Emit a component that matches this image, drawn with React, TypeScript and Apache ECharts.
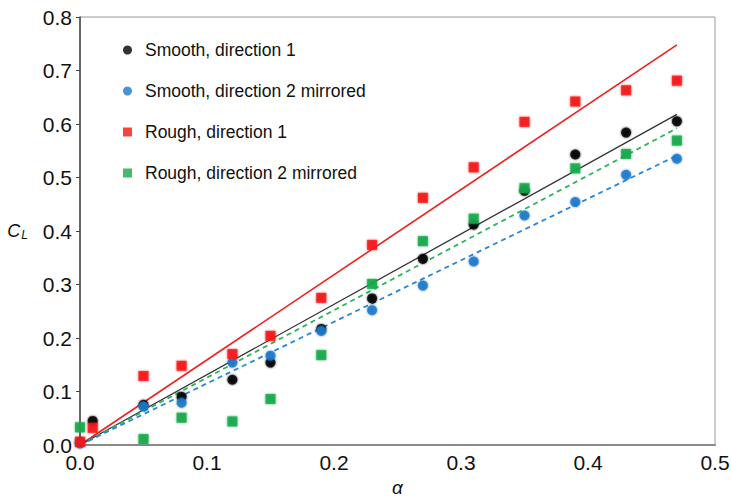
import React, { useEffect, useRef } from "react";
import * as echarts from "echarts";

const alphaFull = [0, 0.01, 0.05, 0.08, 0.12, 0.15, 0.19, 0.23, 0.27, 0.31, 0.35, 0.39, 0.43, 0.47];
const alphaMirrored = [0, 0.05, 0.08, 0.12, 0.15, 0.19, 0.23, 0.27, 0.31, 0.35, 0.39, 0.43, 0.47];

const smoothDir1 = [0.005, 0.045, 0.075, 0.09, 0.122, 0.154, 0.217, 0.274, 0.348, 0.412, 0.475, 0.543, 0.584, 0.605];
const smoothDir2 = [0.003, 0.072, 0.079, 0.154, 0.167, 0.213, 0.252, 0.298, 0.343, 0.429, 0.454, 0.505, 0.535];
const roughDir1 = [0.006, 0.032, 0.129, 0.148, 0.17, 0.204, 0.275, 0.374, 0.462, 0.519, 0.604, 0.642, 0.663, 0.681];
const roughDir2 = [0.033, 0.011, 0.051, 0.044, 0.086, 0.168, 0.301, 0.381, 0.423, 0.48, 0.517, 0.544, 0.569];

const fitAlpha = [0, 0.47];
const fitSmoothDir1 = [0, 0.618];
const fitSmoothDir2 = [0, 0.541];
const fitRoughDir1 = [0, 0.748];
const fitRoughDir2 = [0, 0.592];

const seriesNames = [
  "Smooth, direction 1",
  "Smooth, direction 2 mirrored",
  "Rough, direction 1",
  "Rough, direction 2 mirrored",
];

const zip = (xs: number[], ys: number[]) => xs.map((x, i) => [x, ys[i]]);

const FONT = "Arial, 'Liberation Sans', Helvetica, sans-serif";
const BLACK = "#000000";
const BLUE = "#1f78c9";
const RED = "#f41414";
const GREEN = "#16a84a";

export default function App() {
  const ref = useRef<HTMLDivElement>(null);
  useEffect(() => {
    if (!ref.current) return;
    const chart = echarts.init(ref.current, null, { renderer: "svg" });
    const scatter = (name: string, xs: number[], ys: number[], color: string, symbol: string) => ({
      name,
      type: "scatter",
      data: zip(xs, ys),
      symbol,
      symbolSize: 10,
      itemStyle: { color, shadowBlur: 2, shadowColor: color },
      z: 3,
    });
    const fit = (ys: number[], color: string, dashed: boolean, width: number) => ({
      type: "line",
      data: zip(fitAlpha, ys),
      symbol: "none",
      silent: true,
      lineStyle: { color, width, type: dashed ? [5, 4] : "solid" },
      z: 2,
    });
    chart.setOption({
      animation: false,
      backgroundColor: "#ffffff",
      grid: {
        left: 80,
        right: 16,
        top: 17,
        bottom: 53,
        outerBoundsMode: "none",
        containLabel: false,
        show: true,
        borderColor: "#9a9a9a",
        borderWidth: 1,
      },
      legend: {
        data: seriesNames.map((n, i) => ({ name: n, icon: i < 2 ? "circle" : "rect" })),
        orient: "vertical",
        left: 118,
        top: 36,
        itemWidth: 9,
        itemHeight: 9,
        itemGap: 23,
        textStyle: { fontFamily: FONT, fontSize: 17.5, color: "#111", padding: [0, 0, 0, 8] },
        selectedMode: false,
      },
      xAxis: {
        type: "value",
        min: 0,
        max: 0.5,
        interval: 0.1,
        name: "α",
        nameLocation: "middle",
        nameGap: 31,
        nameTextStyle: { fontFamily: FONT, fontSize: 19, fontStyle: "italic", color: "#111" },
        axisLine: { show: true, lineStyle: { color: "#8a8a8a", width: 2 } },
        axisTick: { show: false },
        splitLine: { show: false },
        axisLabel: {
          fontFamily: FONT,
          fontSize: 21,
          color: "#111",
          margin: 7,
          formatter: (v: number) => v.toFixed(1),
        },
      },
      yAxis: {
        type: "value",
        min: 0,
        max: 0.8,
        interval: 0.1,
        name: "{c|C}{s|L}",
        nameLocation: "middle",
        nameRotate: 0,
        nameGap: 52,
        nameTextStyle: {
          rich: {
            c: { fontFamily: FONT, fontSize: 18, fontStyle: "italic", color: "#111" },
            s: { fontFamily: FONT, fontSize: 12, fontStyle: "italic", color: "#111", padding: [8, 0, 0, 1] },
          },
        },
        axisLine: { show: true, lineStyle: { color: "#444", width: 1.5 } },
        axisTick: { show: true, inside: false, length: 4, lineStyle: { color: "#444" } },
        splitLine: { show: false },
        axisLabel: {
          fontFamily: FONT,
          fontSize: 21,
          color: "#111",
          margin: 8,
          formatter: (v: number) => v.toFixed(1),
        },
      },
      series: [
        fit(fitRoughDir1, "#f01e1e", false, 1.6),
        fit(fitSmoothDir1, "#333333", false, 1.3),
        fit(fitRoughDir2, "#2bb45a", true, 1.8),
        fit(fitSmoothDir2, "#2a86d4", true, 1.8),
        scatter(seriesNames[0], alphaFull, smoothDir1, BLACK, "circle"),
        scatter(seriesNames[1], alphaMirrored, smoothDir2, BLUE, "circle"),
        scatter(seriesNames[2], alphaFull, roughDir1, RED, "rect"),
        scatter(seriesNames[3], alphaMirrored, roughDir2, GREEN, "rect"),
      ],
    });
    return () => chart.dispose();
  }, []);
  return <div ref={ref} style={{ width: 731, height: 498, position: "absolute", left: 0, top: 0 }} />;
}
